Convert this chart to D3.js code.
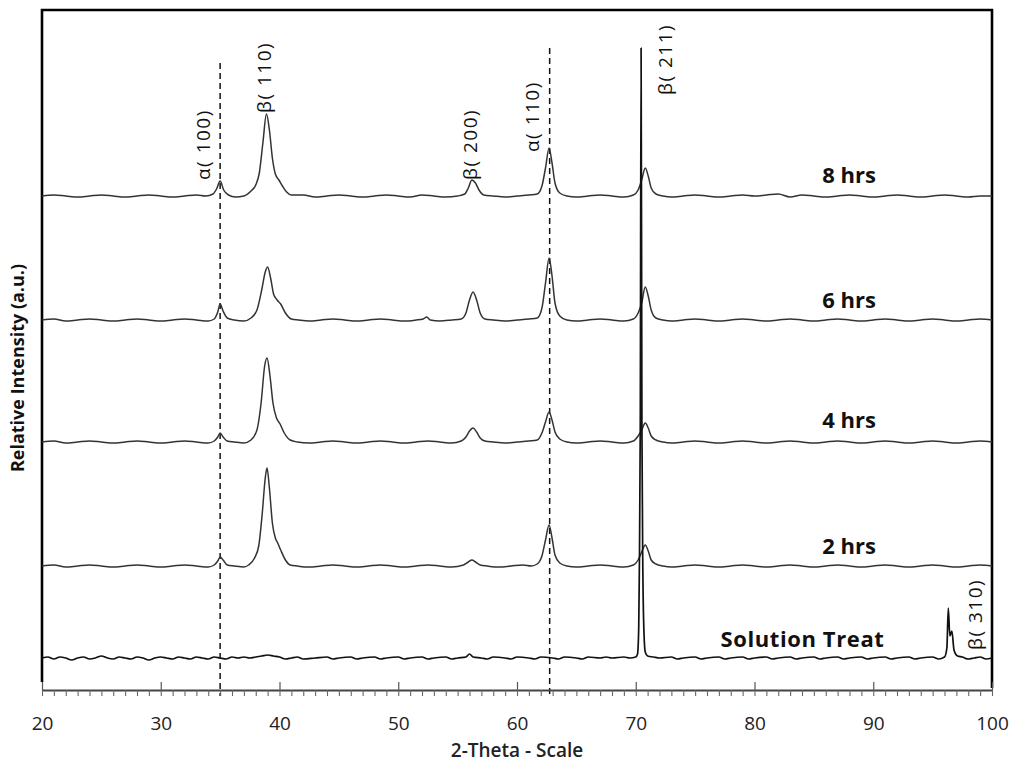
<!DOCTYPE html>
<html><head><meta charset="utf-8">
<script src="https://cdn.jsdelivr.net/npm/d3@7"></script>
<style>body{margin:0;background:#fff}svg{display:block}</style>
</head><body>
<svg id="c" width="1020" height="763"></svg>
<script>
// ---------- DATA ----------
const seriesNames = ["8 hrs", "6 hrs", "4 hrs", "2 hrs", "Solution Treat"];

const hrs8 = [[20,492],[21,493],[22,492],[23,491],[24,492],[25,493],[26,492],[27,491],[28,492],[29,493],[30,492],[31,491],[32,492],[33,493],[33.8,492],[34.4,494],[34.7,499],[35.0,507],[35.3,498],[35.7,493],[36.3,491],[37.0,492],[37.6,497],[38.0,503],[38.3,515],[38.6,545],[38.9,574],[39.15,558],[39.4,530],[39.65,514],[39.95,508],[40.25,502],[40.6,496],[41.0,493],[42,493],[43,491],[44,492],[45,493],[46,492],[47,491],[48,492],[49,493],[50,492],[51,491],[52,493],[53,492],[54,491],[55,492],[55.6,494],[55.9,500],[56.2,508],[56.5,505],[56.8,498],[57.2,493],[58,492],[59,491],[60,492],[61,493],[61.7,494],[62.1,502],[62.4,520],[62.7,540],[62.95,525],[63.2,505],[63.6,495],[64.2,492],[65,491],[66,492],[67,493],[68,492],[69,491],[69.8,493],[70.2,498],[70.5,508],[70.8,520],[71.05,512],[71.3,500],[71.7,494],[72.3,492],[73,491],[74,492],[75,493],[76,492],[77,491],[78,492],[79,493],[80,492],[81,493],[82,494],[83,491],[84,493],[85,492],[86,491],[87,492],[88,493],[89,492],[90,491],[91,492],[92,493],[93,492],[94,491],[95,492],[96,493],[97,492],[98,491],[99,492],[100,492]];

const hrs6 = [[20,368],[21,369],[22,367],[23,368],[24,369],[25,368],[26,367],[27,368],[28,369],[29,368],[30,367],[31,368],[32,369],[33,368],[34,367],[34.5,369],[34.8,376],[35.0,384],[35.25,377],[35.6,370],[36.2,368],[37,367],[37.6,370],[38.1,378],[38.5,398],[38.8,416],[39.0,421],[39.25,410],[39.5,394],[39.8,388],[40.1,384],[40.5,375],[41.0,369],[41.6,368],[42.5,367],[43.5,368],[44.5,369],[45.5,368],[46.5,367],[47.5,368],[48.5,369],[49.5,368],[50.5,367],[51.5,368],[52.1,369],[52.4,371],[52.7,368],[53.5,367],[54.5,368],[55.3,369],[55.7,375],[56.0,388],[56.3,396],[56.6,388],[56.9,375],[57.3,369],[58,368],[59,367],[60,368],[61,369],[61.7,370],[62.1,380],[62.4,405],[62.7,430],[62.95,412],[63.2,385],[63.6,372],[64.2,368],[65,367],[66,368],[67,369],[68,368],[69,367],[69.8,369],[70.2,375],[70.5,385],[70.8,401],[71.05,392],[71.3,378],[71.7,370],[72.3,368],[73,367],[74,368],[75,369],[76,368],[77,367],[78,368],[79,369],[80,368],[81,367],[82,368],[83,369],[84,368],[85,367],[86,368],[87,369],[88,368],[89,367],[90,368],[91,369],[92,368],[93,367],[94,368],[95,369],[96,368],[97,367],[98,368],[99,369],[100,368]];

const hrs4 = [[20,246],[21,247],[22,245],[23,246],[24,247],[25,246],[26,245],[27,246],[28,247],[29,246],[30,245],[31,246],[32,247],[33,246],[34,245],[34.5,247],[34.8,251],[35.0,255],[35.25,251],[35.6,247],[36.2,246],[37,245],[37.6,248],[38.1,258],[38.45,285],[38.75,322],[38.95,330],[39.2,312],[39.45,285],[39.75,270],[40.05,264],[40.4,255],[40.9,248],[41.5,246],[42.5,245],[43.5,246],[44.5,247],[45.5,246],[46.5,245],[47.5,246],[48.5,247],[49.5,246],[50.5,245],[51.5,246],[52.5,247],[53.5,246],[54.5,245],[55.3,247],[55.7,251],[56.0,257],[56.3,260],[56.6,256],[56.9,250],[57.3,247],[58,246],[59,245],[60,246],[61,247],[61.7,248],[62.1,255],[62.4,266],[62.7,276],[62.95,268],[63.2,256],[63.6,249],[64.2,246],[65,245],[66,246],[67,247],[68,246],[69,245],[69.8,247],[70.2,252],[70.5,258],[70.8,265],[71.05,260],[71.3,252],[71.7,248],[72.3,246],[73,245],[74,246],[75,247],[76,246],[77,245],[78,246],[79,247],[80,246],[81,245],[82,246],[83,247],[84,246],[85,245],[86,246],[87,247],[88,246],[89,245],[90,246],[91,247],[92,246],[93,245],[94,246],[95,247],[96,246],[97,245],[98,246],[99,247],[100,246]];

const hrs2 = [[20,122],[21,123],[22,121],[23,122],[24,123],[25,122],[26,121],[27,122],[28,123],[29,122],[30,121],[31,122],[32,123],[33,122],[34,121],[34.5,123],[34.8,127],[35.0,131],[35.25,128],[35.6,123],[36.2,122],[37,121],[37.4,123],[37.9,130],[38.25,142],[38.55,175],[38.8,210],[38.95,220],[39.15,200],[39.4,165],[39.65,150],[39.85,145],[40.1,138],[40.5,128],[40.9,123],[41.5,122],[42.5,121],[43.5,122],[44.5,123],[45.5,122],[46.5,121],[47.5,122],[48.5,123],[49.5,122],[50.5,121],[51.5,122],[52.5,123],[53.5,122],[54.5,121],[55.5,123],[55.9,126],[56.2,128],[56.5,126],[56.9,123],[57.5,122],[58.5,121],[59.5,122],[60.5,123],[61.2,122],[61.7,124],[62.1,132],[62.4,148],[62.7,163],[62.95,150],[63.2,133],[63.6,125],[64.2,122],[65,121],[66,122],[67,123],[68,122],[69,121],[69.8,123],[70.2,128],[70.5,136],[70.8,143],[71.05,137],[71.3,128],[71.7,124],[72.3,122],[73,121],[74,122],[75,123],[76,122],[77,121],[78,122],[79,123],[80,122],[81,121],[82,122],[83,123],[84,122],[85,121],[86,122],[87,123],[88,122],[89,121],[90,122],[91,123],[92,122],[93,121],[94,122],[95,123],[96,122],[97,121],[98,122],[99,123],[100,122]];

const solutionTreat = [[20,30],[20.5,31],[21,29],[21.5,31],[22,30],[22.5,28],[23,30],[23.5,31],[24,29],[24.5,30],[25,32],[25.5,30],[26,29],[26.5,31],[27,30],[27.5,29],[28,31],[28.5,30],[29,28],[29.5,30],[30,31],[30.5,30],[31,29],[31.5,31],[32,30],[32.5,29],[33,31],[33.5,30],[34,29],[34.5,31],[35,30],[35.5,29],[36,31],[36.5,30],[37,31],[37.5,30],[38,31],[38.5,32],[39,33],[39.5,32],[40,31],[40.5,29],[41,30],[41.5,31],[42,29],[43,30],[44,31],[44.5,29],[45,30],[46,31],[46.5,29],[47,30],[48,31],[48.5,29],[49,30],[50,31],[50.5,29],[51,30],[52,31],[52.5,29],[53,30],[54,31],[54.5,29],[55,30],[55.7,31],[56.0,34],[56.3,31],[57,30],[57.5,29],[58,31],[59,30],[59.5,29],[60,31],[61,30],[61.5,29],[62,31],[63,30],[63.5,29],[64,31],[65,30],[65.5,29],[66,31],[67,30],[67.5,31],[68,30],[69,31],[69.5,30],[70.0,31],[70.15,34],[70.25,60],[70.3,115],[70.38,260],[70.45,640],[70.52,260],[70.6,115],[70.68,60],[70.8,36],[71.0,32],[71.5,31],[72,30],[73,31],[73.5,29],[74,30],[75,31],[75.5,29],[76,30],[77,31],[77.5,29],[78,30],[79,31],[79.5,29],[80,30],[81,31],[81.5,29],[82,30],[83,31],[83.5,29],[84,30],[85,31],[85.5,29],[86,30],[87,31],[87.5,29],[88,30],[89,31],[89.5,29],[90,30],[91,31],[91.5,29],[92,30],[93,31],[93.5,29],[94,30],[95,31],[95.5,29],[96,31],[96.2,40],[96.32,80],[96.45,52],[96.62,57],[96.8,38],[97.1,32],[97.5,31],[98,29],[98.5,30],[99,31],[99.5,29],[100,30]];

const seriesData = [hrs8, hrs6, hrs4, hrs2, solutionTreat];
// label anchor per series: [2-theta, intensity]
const seriesLabelTheta = [87.96, 87.96, 87.96, 87.96, 84.04];
const seriesLabelI = [505, 380, 260, 134, 41];

const peakLabels = ["α( 100)", "β( 110)", "β( 200)", "α( 110)", "β( 211)", "β( 310)"];
const peakLabelTheta = [33.56, 38.69, 56.04, 61.26, 72.46, 98.57];
const peakLabelI = [508, 575, 508, 536, 593, 38];

const refLineTheta = [35.0, 62.75];
const refLineTop = [625, 640];

const xTicks = [20, 30, 40, 50, 60, 70, 80, 90, 100];
const xTitle = "2-Theta - Scale";
const yTitle = "Relative Intensity (a.u.)";

// ---------- CHART ----------
const svg = d3.select("#c");
const FONT = "'Open Sans', 'DejaVu Sans', sans-serif";
const x = d3.scaleLinear().domain([20, 100]).range([42, 992]);
const y = d3.scaleLinear().domain([0, 678]).range([688, 10]);

// frame
svg.append("path")
  .attr("d", `M${x(20)},682V${y(678)}H${x(100)}V688`)
  .attr("fill", "none").attr("stroke", "#000").attr("stroke-width", 2.6);

// reference dashed lines
svg.selectAll("line.ref").data(refLineTheta).join("line")
  .attr("class", "ref")
  .attr("x1", d => x(d)).attr("x2", d => x(d))
  .attr("y1", (d, i) => y(refLineTop[i])).attr("y2", y(-8))
  .attr("stroke", "#111").attr("stroke-width", 1.5)
  .attr("stroke-dasharray", "6,4");

// traces
const line = d3.line().x(d => x(d[0])).y(d => y(d[1])).curve(d3.curveMonotoneX);
svg.selectAll("path.trace").data(seriesData).join("path")
  .attr("class", "trace")
  .attr("d", line)
  .attr("fill", "none")
  .attr("stroke", (d, i) => i === 4 ? "#111" : "#333")
  .attr("stroke-width", (d, i) => i === 4 ? 1.7 : 1.5)
  .attr("stroke-linejoin", "round");

// x axis
const gx = svg.append("g").attr("transform", "translate(0,690)");
gx.call(d3.axisBottom(x).tickValues(xTicks).tickSizeInner(-8).tickSizeOuter(0).tickPadding(27));
gx.select(".domain").attr("stroke", "#444").attr("stroke-width", 2);
gx.selectAll(".tick line").attr("stroke", "#555").attr("stroke-width", 1.2);
gx.selectAll(".tick text").attr("font-family", FONT).attr("font-size", 19).attr("fill", "#222");

const gm = svg.append("g").attr("transform", "translate(0,690)");
gm.call(d3.axisBottom(x).tickValues(d3.range(20, 101, 1)).tickSize(6).tickFormat(""));
gm.select(".domain").remove();
gm.selectAll(".tick line").attr("stroke", "#666").attr("stroke-width", 1.1);

// titles
svg.append("text").attr("x", 517).attr("y", 757)
  .attr("text-anchor", "middle").attr("font-family", FONT).attr("font-size", 19)
  .attr("font-weight", 600).attr("fill", "#222").text(xTitle);
svg.append("text").attr("transform", "translate(24,368) rotate(-90)")
  .attr("text-anchor", "middle").attr("font-family", FONT).attr("font-size", 18)
  .attr("font-weight", "bold").attr("fill", "#111").text(yTitle);

// series labels
svg.selectAll("text.slab").data(seriesNames).join("text")
  .attr("class", "slab")
  .attr("x", (d, i) => x(seriesLabelTheta[i]))
  .attr("y", (d, i) => y(seriesLabelI[i]))
  .attr("text-anchor", "middle").attr("font-family", FONT)
  .attr("font-size", 22).attr("font-weight", "bold").attr("fill", "#111")
  .attr("letter-spacing", (d, i) => i === 4 ? 0.6 : 0)
  .text(d => d);

// peak labels (rotated)
svg.selectAll("text.plab").data(peakLabels).join("text")
  .attr("class", "plab")
  .attr("transform", (d, i) => `translate(${x(peakLabelTheta[i])},${y(peakLabelI[i])}) rotate(-90)`)
  .attr("dy", "0.35em")
  .attr("text-anchor", "start").attr("font-family", FONT)
  .attr("font-size", 19).attr("letter-spacing", 1.5).attr("fill", "#111")
  .text(d => d);
</script>
</body></html>
